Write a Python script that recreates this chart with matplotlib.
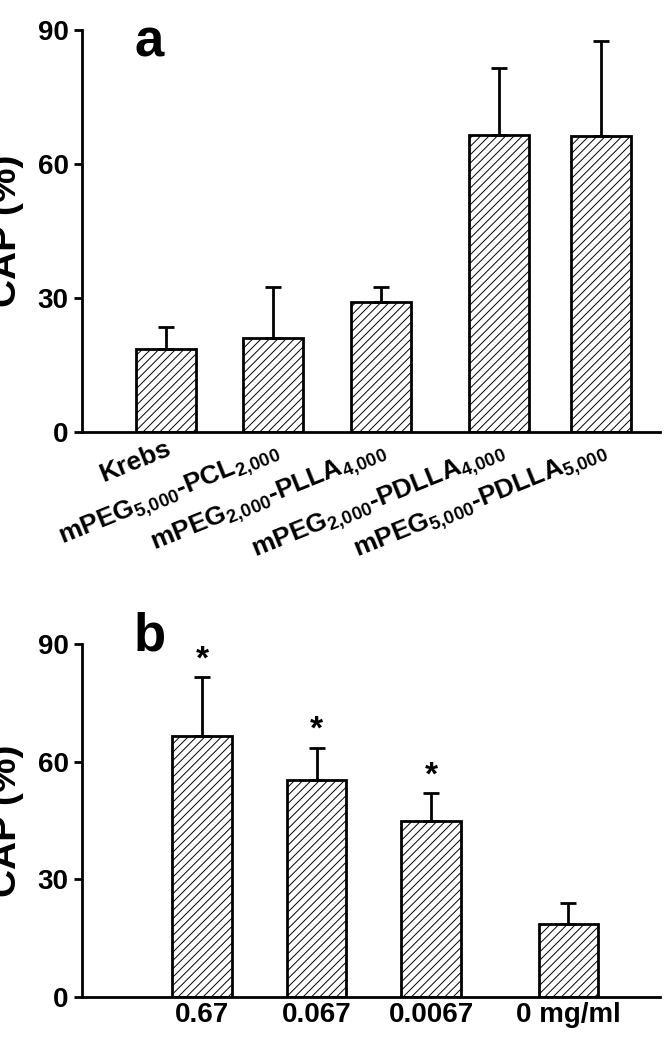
import matplotlib.pyplot as plt
import numpy as np

plt.rcParams['font.family'] = 'Liberation Sans'
plt.rcParams['font.weight'] = 'bold'
plt.rcParams['mathtext.fontset'] = 'custom'
plt.rcParams['mathtext.rm'] = 'Liberation Sans:bold'
plt.rcParams['mathtext.bf'] = 'Liberation Sans:bold'
plt.rcParams['hatch.linewidth'] = 0.7
plt.rcParams['hatch.color'] = '#777777'

# panel a
labels_a = ['Krebs',
            r'mPEG$_{\mathrm{5{,}000}}$-PCL$_{\mathrm{2{,}000}}$',
            r'mPEG$_{\mathrm{2{,}000}}$-PLLA$_{\mathrm{4{,}000}}$',
            r'mPEG$_{\mathrm{2{,}000}}$-PDLLA$_{\mathrm{4{,}000}}$',
            r'mPEG$_{\mathrm{5{,}000}}$-PDLLA$_{\mathrm{5{,}000}}$']
mean_a = [18.5, 21.0, 29.0, 66.5, 66.3]
err_a = [5.0, 11.5, 3.5, 15.0, 21.2]

# panel b
labels_b = ['0.67', '0.067', '0.0067', '0 mg/ml']
mean_b = [66.5, 55.3, 45.0, 18.5]
err_b = [15.0, 8.2, 7.0, 5.5]
stars_b = ['*', '*', '*', '']

fig = plt.figure(figsize=(6.69, 10.5), dpi=100)
ax1 = fig.add_axes([82/669, 1-432/1050, 578/669, 402/1050])
ax2 = fig.add_axes([82/669, 1-997/1050, 578/669, 353/1050])

def style(ax):
    ax.set_ylim(0, 90)
    ax.set_yticks([0, 30, 60, 90])
    ax.spines['top'].set_visible(False)
    ax.spines['right'].set_visible(False)
    ax.spines['left'].set_linewidth(2)
    ax.spines['bottom'].set_linewidth(2)
    ax.tick_params(axis='y', width=2, length=6, labelsize=20)
    ax.tick_params(axis='x', length=0)
    ax.set_ylabel('CAP (%)', fontsize=28, fontweight='bold', labelpad=10)

x = np.array([0, 1, 2, 3.1, 4.05])
ax1.bar(x, mean_a, width=0.56, color='white', edgecolor='black', linewidth=2, hatch='////')
ax1.errorbar(x, mean_a, yerr=[np.zeros(5), err_a], fmt='none', ecolor='black', elinewidth=2, capsize=6, capthick=2)
ax1.set_xlim(-0.78, 4.6)
ax1.set_xticks(x)
ax1.set_xticklabels(labels_a, rotation=22, ha='right', rotation_mode='anchor', fontsize=19)
style(ax1)
ax1.text(0.09, 0.97, 'a', transform=ax1.transAxes, fontsize=38, fontweight='bold', va='center')

xb = np.array([0, 1, 2, 3.2])
ax2.bar(xb, mean_b, width=0.52, color='white', edgecolor='black', linewidth=2, hatch='////')
ax2.errorbar(xb, mean_b, yerr=[np.zeros(4), err_b], fmt='none', ecolor='black', elinewidth=2, capsize=6, capthick=2)
for xi, m, e, s in zip(xb, mean_b, err_b, stars_b):
    ax2.text(xi, m + e + 0.5, s, ha='center', va='bottom', fontsize=24, fontweight='bold')
ax2.set_xlim(-1.05, 4.0)
ax2.set_xticks(xb)
ax2.set_xticklabels(labels_b, fontsize=20)
style(ax2)
ax2.text(0.09, 1.02, 'b', transform=ax2.transAxes, fontsize=38, fontweight='bold', va='center')

fig.savefig('out.png', dpi=100)
